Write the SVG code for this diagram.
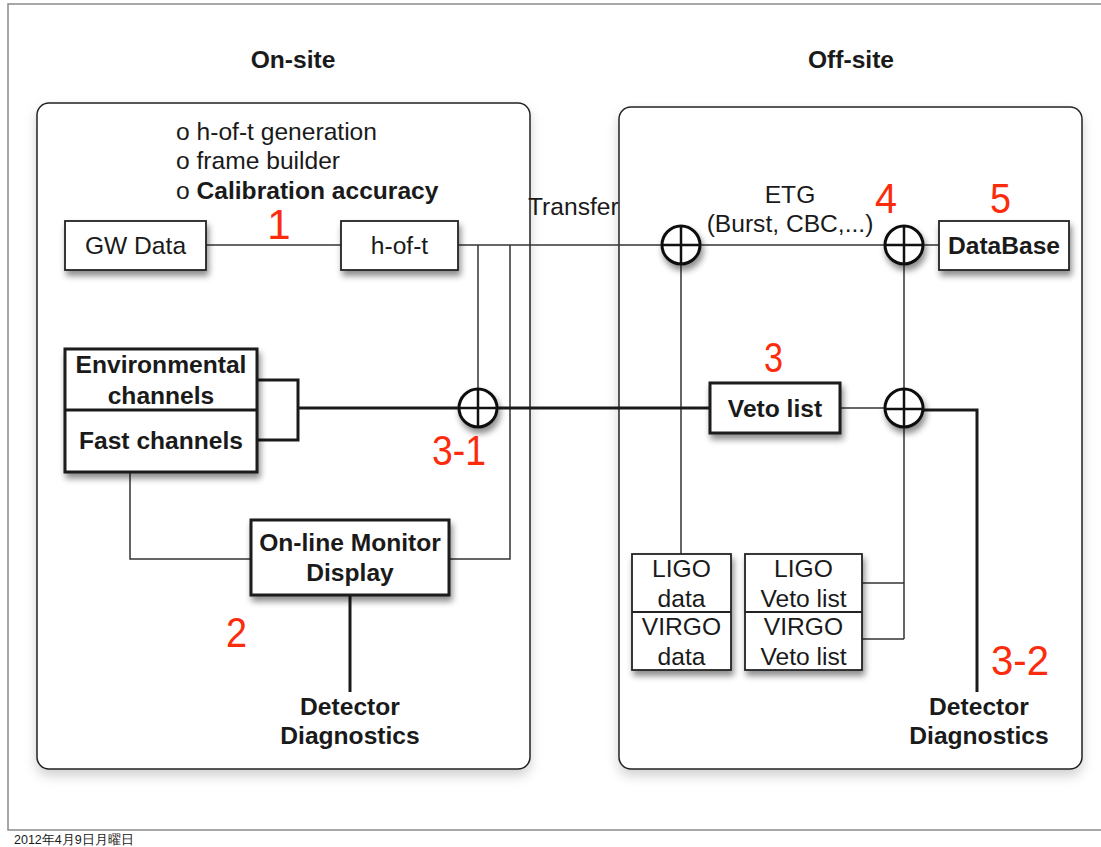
<svg xmlns="http://www.w3.org/2000/svg" width="1101" height="847" viewBox="0 0 1101 847">
  <defs>
    <filter id="shadow" x="-20%" y="-20%" width="150%" height="170%">
      <feDropShadow dx="2" dy="5" stdDeviation="3" flood-color="#000" flood-opacity="0.45"/>
    </filter>
    <filter id="panelShadow" x="-5%" y="-5%" width="110%" height="110%">
      <feDropShadow dx="0" dy="6" stdDeviation="6" flood-color="#000" flood-opacity="0.18"/>
    </filter>
    <style>
      text { font-family: "Liberation Sans", Arial, sans-serif; fill: #1a1a1a; }
      .t { font-size: 24.6px; }
      .b { font-size: 24.6px; font-weight: bold; }
      .c { text-anchor: middle; }
      .num { font-size: 42px; fill: #fb2c0d; }
      .panel { fill: #fff; stroke: #222; stroke-width: 1.5; filter: url(#panelShadow); }
      .box { fill: #fff; stroke: #222; stroke-width: 1.8; filter: url(#shadow); }
      .boxb { fill: #fff; stroke: #1a1a1a; stroke-width: 3; filter: url(#shadow); }
      .thin { fill: none; stroke: #333; stroke-width: 1.5; }
      .thick { fill: none; stroke: #1a1a1a; stroke-width: 3; }
      .sum circle { fill: #fff; stroke: #111; stroke-width: 3; filter: url(#shadow); }
      .sum line { stroke: #111; stroke-width: 2.5; }
      .frame { fill: none; stroke: #8a8a8a; stroke-width: 1.5; }
    </style>
  </defs>

  <rect width="1101" height="847" fill="#fff"/>

  <!-- page frame -->
  <path class="frame" d="M1101,4 H8 V830 H1101"/>
  <text x="14" y="844" style="font-size:12.5px" font-family="'Liberation Sans','Noto Sans CJK JP',sans-serif">2012年4月9日月曜日</text>

  <!-- site panels -->
  <g id="on-site">
    <rect class="panel" x="37" y="103" width="493" height="666" rx="12"/>
    <text class="b c" x="293" y="68">On-site</text>
    <text class="t" x="176" y="140">o h-of-t generation</text>
    <text class="t" x="176" y="169">o frame builder</text>
    <text class="t" x="176" y="199">o <tspan font-weight="bold">Calibration accuracy</tspan></text>
  </g>
  <g id="off-site">
    <rect class="panel" x="619" y="107" width="463" height="662" rx="12"/>
    <text class="b c" x="851" y="68">Off-site</text>
  </g>

  <!-- connectors -->
  <g id="connectors">
    <line class="thin" x1="206" y1="245" x2="341" y2="245"/>
    <line class="thin" x1="458" y1="245" x2="904" y2="245"/>
    <line class="thin" x1="904" y1="245" x2="939" y2="245"/>
    <line class="thin" x1="478" y1="245" x2="478" y2="408"/>
    <polyline class="thin" points="510,245 510,559 449,559"/>
    <polyline class="thin" points="130,472 130,559 251,559"/>
    <line class="thin" x1="681" y1="245" x2="681" y2="554"/>
    <line class="thin" x1="904" y1="245" x2="904" y2="639"/>
    <line class="thin" x1="862" y1="583" x2="904" y2="583"/>
    <line class="thin" x1="862" y1="639" x2="904" y2="639"/>
    <line class="thin" x1="840" y1="408" x2="904" y2="408"/>
    <polyline class="thick" points="257,380 298,380 298,440 257,440"/>
    <line class="thick" x1="298" y1="408" x2="710" y2="408"/>
    <polyline class="thick" points="904,410 977,410 977,692"/>
    <line class="thick" x1="350" y1="595" x2="350" y2="692"/>
    <text class="t" x="528" y="215">Transfer</text>
    <text class="t c" x="790" y="203">ETG</text>
    <text class="t c" x="790" y="232">(Burst, CBC,...)</text>
  </g>

  <!-- on-site nodes -->
  <g id="gw-data">
    <rect class="box" x="65" y="221" width="141" height="49"/>
    <text class="t c" x="135.5" y="254">GW Data</text>
  </g>
  <g id="h-of-t">
    <rect class="box" x="341" y="221" width="117" height="49"/>
    <text class="t c" x="399.5" y="254">h-of-t</text>
  </g>
  <g id="channels">
    <rect class="boxb" x="65" y="349" width="192" height="123"/>
    <line x1="65" y1="410" x2="257" y2="410" stroke="#1a1a1a" stroke-width="3"/>
    <text class="b c" x="161" y="373">Environmental</text>
    <text class="b c" x="161" y="404">channels</text>
    <text class="b c" x="161" y="449">Fast channels</text>
  </g>
  <g id="sum-3-1" class="sum">
    <circle cx="478" cy="408" r="19"/>
    <line x1="478" y1="389" x2="478" y2="427"/>
    <line x1="459" y1="408" x2="497" y2="408"/>
  </g>
  <g id="monitor">
    <rect class="boxb" x="251" y="520" width="198" height="75"/>
    <text class="b c" x="350" y="551">On-line Monitor</text>
    <text class="b c" x="350" y="581">Display</text>
  </g>
  <g id="diag-on">
    <text class="b c" x="350" y="715">Detector</text>
    <text class="b c" x="350" y="744">Diagnostics</text>
  </g>

  <!-- off-site nodes -->
  <g id="sum-etg" class="sum">
    <circle cx="681" cy="245" r="19"/>
    <line x1="681" y1="226" x2="681" y2="264"/>
    <line x1="662" y1="245" x2="700" y2="245"/>
  </g>
  <g id="sum-db" class="sum">
    <circle cx="904" cy="245" r="19"/>
    <line x1="904" y1="226" x2="904" y2="264"/>
    <line x1="885" y1="245" x2="923" y2="245"/>
  </g>
  <g id="database">
    <rect class="box" x="939" y="221" width="130" height="49"/>
    <text class="b c" x="1004" y="254">DataBase</text>
  </g>
  <g id="veto-list">
    <rect class="boxb" x="710" y="383" width="130" height="50"/>
    <text class="b c" x="775" y="417">Veto list</text>
  </g>
  <g id="sum-veto" class="sum">
    <circle cx="904" cy="408" r="19"/>
    <line x1="904" y1="389" x2="904" y2="427"/>
    <line x1="885" y1="409" x2="923" y2="409"/>
  </g>
  <g id="data-store">
    <rect class="box" x="632" y="554" width="99" height="116"/>
    <line x1="632" y1="612" x2="731" y2="612" stroke="#222" stroke-width="1.8"/>
    <text class="t c" x="681.5" y="577">LIGO</text>
    <text class="t c" x="681.5" y="607">data</text>
    <text class="t c" x="681.5" y="635">VIRGO</text>
    <text class="t c" x="681.5" y="665">data</text>
  </g>
  <g id="veto-store">
    <rect class="box" x="745" y="554" width="117" height="116"/>
    <line x1="745" y1="612" x2="862" y2="612" stroke="#222" stroke-width="1.8"/>
    <text class="t c" x="803.5" y="577">LIGO</text>
    <text class="t c" x="803.5" y="607">Veto list</text>
    <text class="t c" x="803.5" y="635">VIRGO</text>
    <text class="t c" x="803.5" y="665">Veto list</text>
  </g>
  <g id="diag-off">
    <text class="b c" x="979" y="715">Detector</text>
    <text class="b c" x="979" y="744">Diagnostics</text>
  </g>

  <!-- step numbers -->
  <g id="steps">
    <text class="num" x="279" y="239" text-anchor="middle">1</text>
    <text class="num" x="226" y="647" textLength="21" lengthAdjust="spacingAndGlyphs">2</text>
    <text class="num" x="764" y="372" textLength="19" lengthAdjust="spacingAndGlyphs">3</text>
    <text class="num" x="432" y="465" textLength="54" lengthAdjust="spacingAndGlyphs">3-1</text>
    <text class="num" x="991" y="675" textLength="58" lengthAdjust="spacingAndGlyphs">3-2</text>
    <text class="num" x="875" y="213" textLength="22" lengthAdjust="spacingAndGlyphs">4</text>
    <text class="num" x="990" y="213" textLength="21" lengthAdjust="spacingAndGlyphs">5</text>
  </g>
</svg>
